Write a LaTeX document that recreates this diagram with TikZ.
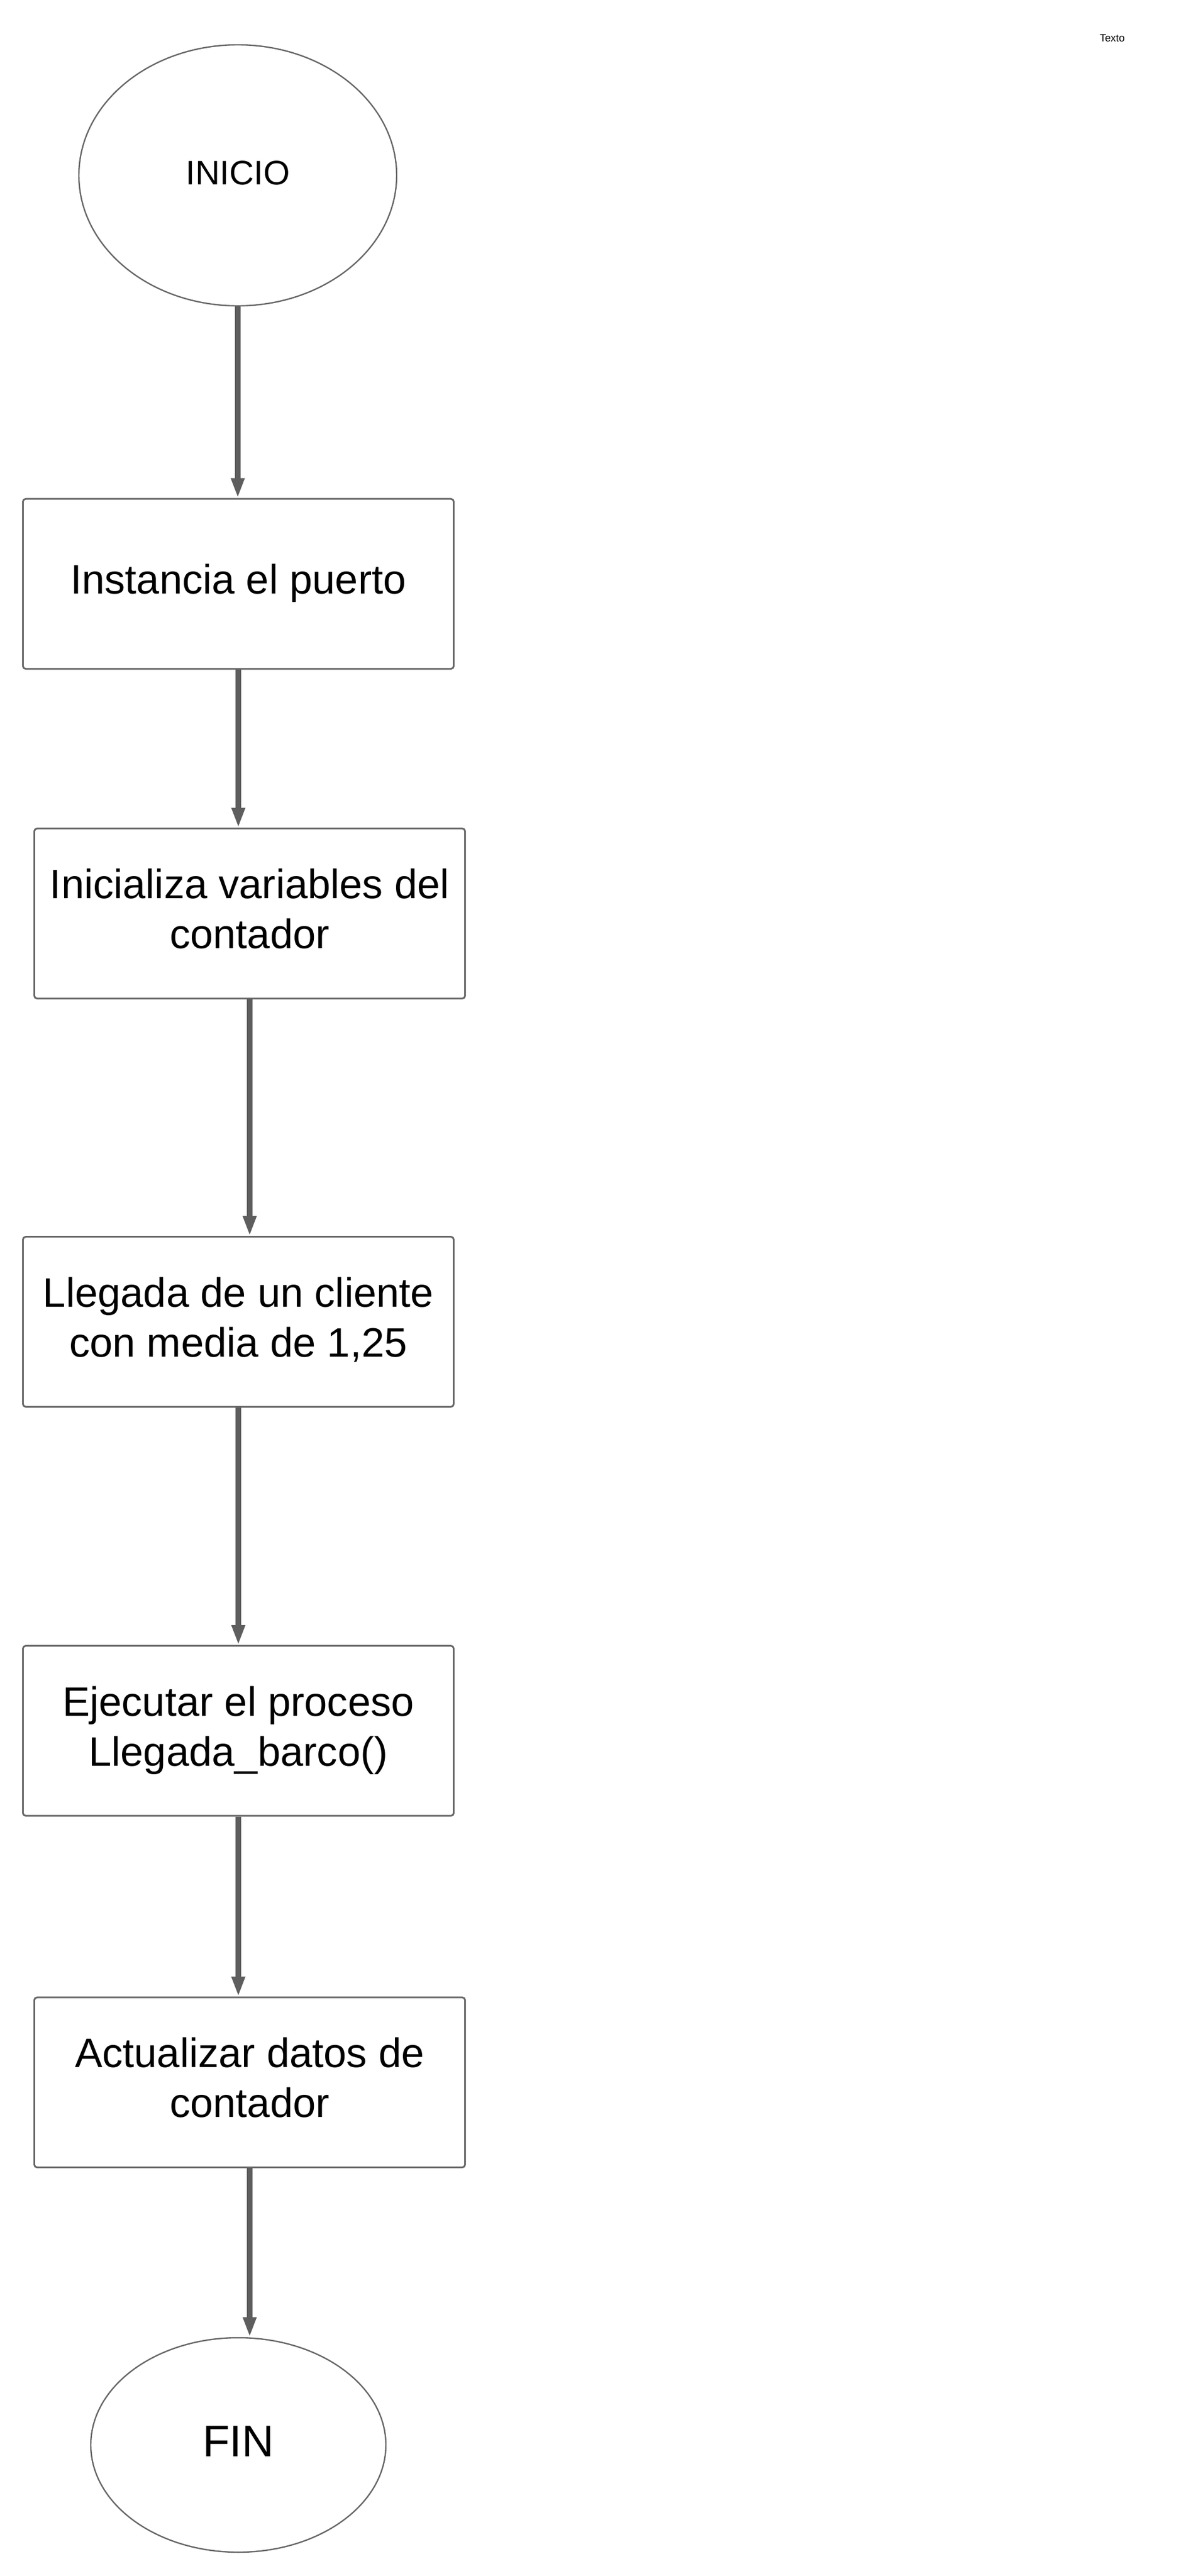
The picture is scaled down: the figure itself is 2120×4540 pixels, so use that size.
\documentclass[tikz,border=0pt]{standalone}
\usepackage{fontspec}
\setmainfont{Liberation Sans}
\usetikzlibrary{shapes.geometric,arrows.meta,calc}
\definecolor{bordergray}{HTML}{666666}
\definecolor{arrowgray}{HTML}{5E5E5E}
\tikzset{
  stepbox/.style={draw=bordergray, line width=0.75pt, rounded corners=1.25pt,
    minimum width=189.8pt, minimum height=74.9pt, inner sep=0pt, fill=white},
  termshape/.style={ellipse, draw=bordergray, line width=0.6pt, inner sep=0pt},
  boxtext/.style={font=\fontsize{18.1pt}{22pt}\selectfont, anchor=base, inner sep=0pt},
  flowarrow/.style={draw=arrowgray, line width=2.5pt,
    -{Triangle[length=8.75pt,width=5.5pt]}}
}
\begin{document}
\begin{tikzpicture}[x=0.25pt,y=-0.25pt]
\useasboundingbox[fill=white] (0,0) rectangle (2120,4540);

% small label top right
\node[anchor=base, inner sep=0pt, font=\fontsize{4.6pt}{5.5pt}\selectfont] (texto) at (1960,73) {Texto};

% start
\node[termshape, minimum width=140pt, minimum height=115pt] (ini) at (419,309) {};
\node[anchor=base, inner sep=0pt, font=\fontsize{15pt}{18pt}\selectfont] (initxt) at (419,325) {INICIO};

% boxes
\node[stepbox] (b1) at (420,1029) {};
\node[boxtext] (t1) at ($(b1.center)+(0,17.7)$) {Instancia el puerto};

\node[stepbox] (b2) at (440,1610) {};
\node[boxtext] (t2a) at ($(b2.center)+(0,-26.4)$) {Inicializa variables del};
\node[boxtext] (t2b) at ($(b2.center)+(0,61.6)$) {contador};

\node[stepbox] (b3) at (420,2329.5) {};
\node[boxtext] (t3a) at ($(b3.center)+(0,-26.4)$) {Llegada de un cliente};
\node[boxtext] (t3b) at ($(b3.center)+(0,61.6)$) {con media de 1,25};

\node[stepbox] (b4) at (420,3050.4) {};
\node[boxtext] (t4a) at ($(b4.center)+(0,-26.4)$) {Ejecutar el proceso};
\node[boxtext] (t4b) at ($(b4.center)+(0,61.6)$) {Llegada\_barco()};

\node[stepbox] (b5) at (440,3670) {};
\node[boxtext] (t5a) at ($(b5.center)+(0,-26.4)$) {Actualizar datos de};
\node[boxtext] (t5b) at ($(b5.center)+(0,61.6)$) {contador};

% end
\node[termshape, minimum width=130pt, minimum height=94.5pt] (fin) at (420,4309) {};
\node[anchor=base, inner sep=0pt, font=\fontsize{19.5pt}{23pt}\selectfont] (fintxt) at (420,4329.5) {FIN};

% connectors
\draw[flowarrow] (ini.south) -- (ini.south |- b1.north);
\draw[flowarrow] (b1.south) -- (b1.south |- b2.north);
\draw[flowarrow] (b2.south) -- (b2.south |- b3.north);
\draw[flowarrow] (b3.south) -- (b3.south |- b4.north);
\draw[flowarrow] (b4.south) -- (b4.south |- b5.north);
\draw[flowarrow] (b5.south) -- (b5.south |- fin.north);
\end{tikzpicture}
\end{document}
